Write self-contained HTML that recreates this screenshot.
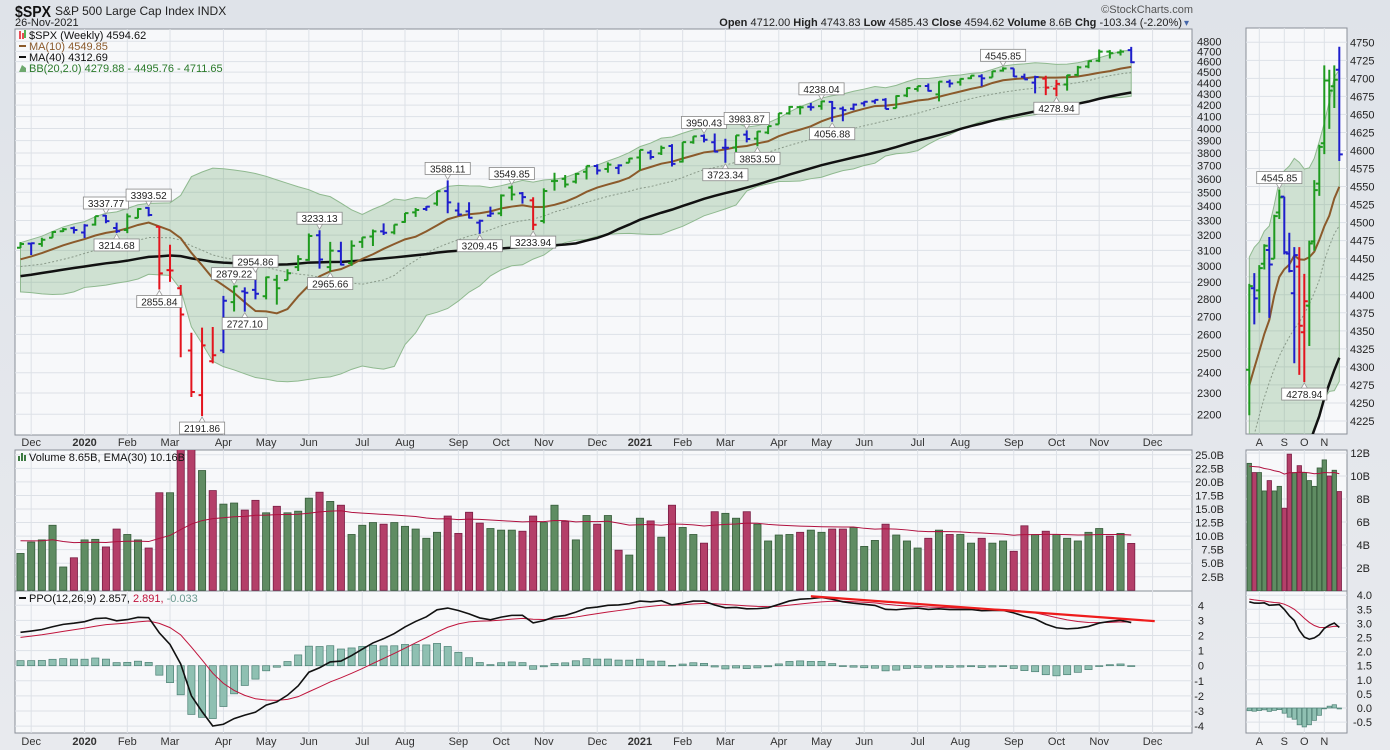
<!DOCTYPE html>
<html><head><meta charset="utf-8"><title>$SPX Weekly</title>
<style>
html,body{margin:0;padding:0;background:#e3e6eb;}
svg{display:block;font-family:"Liberation Sans",sans-serif;}
</style></head>
<body>
<svg id="chart" xmlns="http://www.w3.org/2000/svg" width="1390" height="750" viewBox="0 0 1390 750">
<defs>
<linearGradient id="bgGrad" x1="0" y1="0" x2="0" y2="1"><stop offset="0" stop-color="#dfe3e9"/><stop offset="1" stop-color="#e8eaee"/></linearGradient>
<clipPath id="cMain"><rect x="15" y="29" width="1177" height="406"/></clipPath>
<clipPath id="cVol"><rect x="15" y="450" width="1177" height="141"/></clipPath>
<clipPath id="cPpo"><rect x="15" y="591" width="1177" height="142"/></clipPath>
<clipPath id="cSMain"><rect x="1246" y="28" width="101" height="406"/></clipPath>
<clipPath id="cSVol"><rect x="1246" y="450" width="101" height="141"/></clipPath>
<clipPath id="cSPpo"><rect x="1246" y="591" width="101" height="142"/></clipPath>
</defs>
<rect x="0" y="0" width="1390" height="750" fill="url(#bgGrad)"/>
<rect x="15" y="29" width="1177" height="406" fill="#f7f8fa" stroke="#8a8f98"/>
<rect x="15" y="450" width="1177" height="141" fill="#f7f8fa" stroke="#8a8f98"/>
<rect x="15" y="591" width="1177" height="142" fill="#f7f8fa" stroke="#8a8f98"/>
<rect x="1246" y="28" width="101" height="406" fill="#f7f8fa" stroke="#8a8f98"/>
<rect x="1246" y="450" width="101" height="141" fill="#f7f8fa" stroke="#8a8f98"/>
<rect x="1246" y="591" width="101" height="142" fill="#f7f8fa" stroke="#8a8f98"/>
<text x="15" y="17" font-size="16" font-weight="bold" fill="#111" textLength="36" lengthAdjust="spacingAndGlyphs">$SPX</text>
<text x="55" y="15" font-size="12" fill="#222">S&amp;P 500 Large Cap Index  INDX</text>
<text x="15" y="26" font-size="11" fill="#222">26-Nov-2021</text>
<text x="1193" y="13" font-size="11" fill="#555" text-anchor="end">©StockCharts.com</text>
<text x="1182" y="26" font-size="11" fill="#222" text-anchor="end"><tspan font-weight="bold">Open</tspan> 4712.00  <tspan font-weight="bold">High</tspan> 4743.83  <tspan font-weight="bold">Low</tspan> 4585.43  <tspan font-weight="bold">Close</tspan> 4594.62  <tspan font-weight="bold">Volume</tspan> 8.6B  <tspan font-weight="bold">Chg</tspan> -103.34 (-2.20%)</text>
<text x="1184" y="26" font-size="10" fill="#4466aa">▾</text>
<g id="layer"></g>
</svg>
<script>
// ---- DATA ----
const preClose=[2532,2596,2671,2665,2707,2708,2776,2793,2804,2743,2822,2801,2834,2893,2907,2905,2940,2946,2881,2860,2826,2752,2873,2887,2950,2942,2990,3014,2977,3026,2932,2919,2889,2847,2926,2979,3007,2992,2962,2952,2970,2986,3023,3067,3093,3120,3110];
const open=[3117,3144,3141,3183,3226,3247,3218,3271,3333,3248,3235,3318,3388,3257,2974,2864,2514,2290,2458,2514,2782,2845,2854,2816,2915,2913,2993,3039,3199,2993,3095,3019,3155,3191,3225,3219,3289,3356,3380,3419,3509,3369,3363,3285,3333,3349,3534,3493,3441,3296,3583,3600,3579,3654,3698,3675,3684,3723,3764,3803,3797,3856,3732,3886,3939,3886,3842,3844,3949,3916,3966,4034,4128,4183,4186,4191,4229,4170,4168,4216,4233,4248,4174,4285,4344,4372,4296,4409,4406,4443,4462,4450,4514,4536,4457,4402,4439,4348,4385,4474,4554,4610,4697,4689,4712];
const high=[3154,3144,3183,3226,3248,3258,3275,3330,3337.77,3285,3348,3385,3393.52,3260,3136,2883,2609,2637,2641,2818,2879.22,2869,2954.86,2934,2945,2980,3068,3211,3233.13,3155,3156,3165,3186,3238,3280,3272,3352,3387,3400,3509,3588.11,3425,3428,3306,3397,3485,3549.85,3502,3464,3529,3646,3629,3645,3699,3712,3726,3711,3760,3826,3823,3859,3871,3887,3935,3950.43,3958,3915,3944,3983.87,3978,4020,4130,4192,4195,4219,4238.04,4237,4188,4214,4234,4249,4262,4287,4356,4372,4394,4415,4430,4441,4470,4480,4511,4545.85,4536,4486,4466,4466,4429,4475,4559,4608,4718,4712,4718,4743.83];
const low=[3115,3070,3123,3183,3221,3211,3181,3264,3281,3214.68,3214,3315,3328,2855.84,2902,2479,2281,2191.86,2447,2500,2728,2727.10,2798,2798,2767,2913,2969,3032,2984,2965.66,3004,3001,3116,3128,3201,3205,3284,3325,3367,3403,3350,3330,3313,3209.45,3324,3330,3441,3418,3233.94,3280,3512,3535,3565,3595,3633,3647,3636,3723,3663,3749,3784,3694,3725,3874,3885,3805,3723.34,3806,3885,3853.50,3953,4034,4117,4119,4152,4160,4056.88,4061,4155,4188,4212,4165,4173,4271,4320,4322,4233,4359,4375,4435,4368,4450,4505,4456,4431,4305,4289,4278.94,4329,4461,4537,4595,4630,4659,4585.43];
const close=[3141,3146,3169,3221,3240,3235,3265,3330,3295,3226,3328,3380,3338,2954,2972,2711,2305,2541,2489,2790,2875,2837,2831,2930,2864,2955,3044,3194,3041,3098,3009,3130,3185,3225,3216,3271,3351,3373,3397,3508,3427,3341,3319,3298,3348,3477,3484,3465,3270,3510,3585,3558,3638,3699,3663,3709,3703,3756,3825,3768,3841,3714,3887,3934,3907,3811,3842,3943,3913,3975,4020,4129,4185,4180,4181,4233,4174,4156,4204,4230,4247,4166,4281,4352,4370,4327,4412,4395,4437,4468,4442,4509,4535,4459,4433,4455,4357,4391,4471,4545,4605,4697,4683,4698,4594.62];
const volume=[6.8,8.9,9.3,12.0,4.3,6.0,9.3,9.4,8.0,11.3,10.3,9.3,7.8,18.0,18.0,27,27,22.1,18.4,15.9,16.1,14.8,16.6,14.3,15.5,14.3,14.6,17.0,18.1,16.4,15.7,10.3,12.0,12.5,12.2,12.5,11.8,11.3,9.6,10.7,13.7,10.5,14.4,12.4,11.4,11.1,11.1,10.9,13.7,12.5,15.7,12.7,9.3,13.8,12.2,13.8,7.4,6.5,13.3,12.8,9.8,15.7,11.6,10.3,8.7,14.5,14.2,13.3,14.5,12.2,9.1,10.2,10.3,10.7,11.1,10.7,11.3,11.3,11.6,8.1,9.2,12.2,10.2,9.1,7.8,9.6,11.1,10.3,10.3,8.7,9.6,8.7,9.1,7.2,11.9,10.3,10.9,10.3,9.6,9.1,10.7,11.4,10.0,10.5,8.65];
const volPrior=9.3;
const impulse="gbgggbbgbbggbrrrrrrbgbbgggggbgbgggbgggbgbbbbbggbrgggggbgbggbgbggbbbgbgggggbgbbbbbbgggbgbggbggbbbrrggggggb".split("");
const monthIdx=[1,6,10,14,19,23,27,32,36,41,45,49,54,58,62,66,71,75,79,84,88,93,97,101,106];
const monthLbl=["Dec","2020","Feb","Mar","Apr","May","Jun","Jul","Aug","Sep","Oct","Nov","Dec","2021","Feb","Mar","Apr","May","Jun","Jul","Aug","Sep","Oct","Nov","Dec"];
const priceTicks=[2200,2300,2400,2500,2600,2700,2800,2900,3000,3100,3200,3300,3400,3500,3600,3700,3800,3900,4000,4100,4200,4300,4400,4500,4600,4700,4800];
const volTicks=[2.5,5,7.5,10,12.5,15,17.5,20,22.5,25];
const ppoTicks=[-4,-3,-2,-1,0,1,2,3,4];
const annIdx=[8,9,12,13,17,20,21,22,28,29,40,43,46,48,64,66,68,69,75,76,92,97];
const annSide=["h","l","h","l","l","h","l","h","h","l","h","l","h","l","h","l","h","l","h","l","h","l"];
const sideStart=86;
const sideMonthIdx=[88,93,97,101];
const sideMonthLbl=["A","S","O","N"];
const sidePriceTicks=[4225,4250,4275,4300,4325,4350,4375,4400,4425,4450,4475,4500,4525,4550,4575,4600,4625,4650,4675,4700,4725,4750];
const sideVolTicks=[2,4,6,8,10,12];
const sidePpoTicks=[-0.5,0,0.5,1,1.5,2,2.5,3,3.5,4];
const trendFrom=[74,4.6], trendTo=[106.2,2.95];

// ---- SCALES ----
const xM=i=>20.5+10.68*i;
const yM=p=>41.3+(Math.log(4800)-Math.log(p))*478.1;
const yV=v=>590.3-v*5.42;
const yP=v=>665.7-v*15.1;
const xS=i=>1249.3+5*(i-sideStart);
const yS=p=>42.3+(4750-p)*0.7213;
const yVS=v=>591-v*11.5;
const yPS=v=>708-v*28.2;

const NS="http://www.w3.org/2000/svg";
const layer=document.getElementById('layer');
function mk(tag,a,parent){const e=document.createElementNS(NS,tag);for(const k in a)e.setAttribute(k,a[k]);(parent||layer).appendChild(e);return e;}
function grp(clip){const g=mk('g',clip?{'clip-path':'url(#'+clip+')'}:{});return g;}

// ---- INDICATORS ----
const N=close.length, P=preClose.length;
const all=preClose.concat(close);
function sma(n,k){let s=0;for(let j=k-n+1;j<=k;j++)s+=all[j];return s/n;}
const ma10=[],ma40=[],bbU=[],bbL=[],bbM=[];
for(let i=0;i<N;i++){const k=i+P;ma10.push(sma(10,k));ma40.push(sma(40,k));const m=sma(20,k);let v=0;for(let j=k-19;j<=k;j++)v+=(all[j]-m)**2;const sd=Math.sqrt(v/20);bbM.push(m);bbU.push(m+2*sd);bbL.push(m-2*sd);}
function ema(arr,n){const a=2/(n+1);const o=[];let e=arr[0];for(let i=0;i<arr.length;i++){e=i===0?arr[0]:e+(arr[i]-e)*a;o.push(e);}return o;}
const e12=ema(all,12),e26=ema(all,26);
const ppoAll=all.map((c,i)=>(e12[i]-e26[i])/e26[i]*100);
const sigAll=ema(ppoAll,9);
const ppo=ppoAll.slice(P),sig=sigAll.slice(P),hist=ppo.map((v,i)=>v-sig[i]);
const volEma=[];{let e=volPrior;for(let i=0;i<N;i++){e=e+(volume[i]-e)*2/31;volEma.push(e);}}

// ---- GRIDS ----
const gGrid=grp();


priceTicks.forEach(p=>{const l=mk('line',{x1:15,x2:1192,y1:yM(p),y2:yM(p),stroke:'#dde1e7','stroke-width':1},gGrid);

});
volTicks.forEach(v=>{const l=mk('line',{x1:15,x2:1192,y1:yV(v),y2:yV(v),stroke:'#dde1e7'},gGrid);

});
ppoTicks.forEach(v=>{const l=mk('line',{x1:15,x2:1192,y1:yP(v),y2:yP(v),stroke:'#dde1e7'},gGrid);

});
monthIdx.forEach(i=>{[[29,435],[450,591],[591,733]].forEach(r=>{const l=mk('line',{x1:xM(i),x2:xM(i),y1:r[0],y2:r[1],stroke:'#dde1e7'},gGrid);

});});
sidePriceTicks.forEach(p=>{const l=mk('line',{x1:1246,x2:1347,y1:yS(p),y2:yS(p),stroke:'#dde1e7'},gGrid);

});
sideVolTicks.forEach(v=>{const l=mk('line',{x1:1246,x2:1347,y1:yVS(v),y2:yVS(v),stroke:'#dde1e7'},gGrid);

});
sidePpoTicks.forEach(v=>{const l=mk('line',{x1:1246,x2:1347,y1:yPS(v),y2:yPS(v),stroke:'#dde1e7'},gGrid);

});
sideMonthIdx.forEach(i=>{[[28,434],[450,591],[591,733]].forEach(r=>{const l=mk('line',{x1:xS(i),x2:xS(i),y1:r[0],y2:r[1],stroke:'#dde1e7'},gGrid);

});});

// ---- PRICE PANELS ----
function pricePanel(clip,X,Y,from,prefix){
  const g=grp(clip);
  
  
  let up='',dn='';
  for(let i=from;i<N;i++){up+=(i===from?'M':'L')+X(i)+','+Y(bbU[i]);}
  for(let i=N-1;i>=from;i--){dn+='L'+X(i)+','+Y(bbL[i]);}
  const band=mk('path',{d:up+dn+'Z',fill:'rgba(70,145,70,0.22)',stroke:'#8fb98f','stroke-width':1},g);
  
  
  const line=(arr,col,w,dash,name)=>{let d='';for(let i=from;i<N;i++)d+=(i===from?'M':'L')+X(i)+','+Y(arr[i]);const p=mk('path',{d:d,fill:'none',stroke:col,'stroke-width':w,'stroke-dasharray':dash||'none'},g);
    
    };
  line(bbM,'#8a9a8a',1,'2,2',prefix+'bollinger-middle');
  line(ma40,'#111',2.5,null,prefix+'ma40-line');
  line(ma10,'#8b5a2b',2,null,prefix+'ma10-line');
  const cols={g:'#1e9a1e',b:'#1e1ecc',r:'#e3141e'};
  for(let i=from;i<N;i++){const x=X(i);const c=cols[impulse[i]];
    const b=mk('path',{d:'M'+x+','+Y(high[i])+'V'+Y(low[i])+'M'+(x-3.5)+','+Y(open[i])+'H'+x+'M'+x+','+Y(close[i])+'H'+(x+3.5),stroke:c,'stroke-width':2,fill:'none'},g);
    
    }
  return g;
}
pricePanel('cMain',xM,yM,0,'');
pricePanel('cSMain',xS,yS,sideStart,'side-');

function annot(X,Y,i,side,prefix){
  const v=side==='h'?high[i]:low[i];const x=X(i),y=Y(v);const t=v.toFixed(2);
  const w=t.length*5.6+6,h=12;const by=side==='h'?y-6-h:y+6;
  const g=mk('g',{});
  
  
  mk('path',{d:side==='h'?('M'+(x-3)+','+(by+h)+'L'+x+','+(y-1)+'L'+(x+3)+','+(by+h)):('M'+(x-3)+','+by+'L'+x+','+(y+1)+'L'+(x+3)+','+by),fill:'#fff',stroke:'#999','stroke-width':0.8},g);
  mk('rect',{x:x-w/2,y:by,width:w,height:h,fill:'#fff',stroke:'#888','stroke-width':0.8},g);
  const tx=mk('text',{x:x,y:by+10,'font-size':10,'text-anchor':'middle',fill:'#222'},g);tx.textContent=t;
}
annIdx.forEach((i,k)=>annot(xM,yM,i,annSide[k],''));
annIdx.forEach((i,k)=>{if(i>=sideStart)annot(xS,yS,i,annSide[k],'side-');});

// ---- VOLUME ----
function volPanel(clip,X,Y,from,bw,prefix){
  const g=grp(clip);
  
  
  for(let i=from;i<N;i++){const prev=i===0?preClose[P-1]:close[i-1];const upc=close[i]>=prev;
    const r=mk('rect',{x:X(i)-bw/2,y:Y(volume[i]),width:bw,height:Y(0)-Y(volume[i]),fill:upc?'#5f8c62':'#b43f69',stroke:upc?'#365c3a':'#7a1d44','stroke-width':0.8},g);
    
    }
  let d='';for(let i=from;i<N;i++)d+=(i===from?'M':'L')+X(i)+','+Y(volEma[i]);
  const l=mk('path',{d:d,fill:'none',stroke:'#b0103f','stroke-width':1},g);
  
  
}
volPanel('cVol',xM,yV,0,7.2,'');
volPanel('cSVol',xS,yVS,sideStart,4.4,'side-');

// ---- PPO ----
function ppoPanel(clip,X,Y,from,bw,prefix){
  const g=grp(clip);
  
  
  for(let i=from;i<N;i++){const y0=Y(0),y1=Y(hist[i]);
    const r=mk('rect',{x:X(i)-bw/2,y:Math.min(y0,y1),width:bw,height:Math.max(0.8,Math.abs(y1-y0)),fill:'#8fc0b2',stroke:'#4b7f73','stroke-width':0.7},g);
    
    }
  let d1='',d2='';for(let i=from;i<N;i++){d1+=(i===from?'M':'L')+X(i)+','+Y(sig[i]);d2+=(i===from?'M':'L')+X(i)+','+Y(ppo[i]);}
  const s=mk('path',{d:d1,fill:'none',stroke:'#c0143c','stroke-width':1},g);
  
  
  const p=mk('path',{d:d2,fill:'none',stroke:'#111','stroke-width':1.6},g);
  
  
  return g;
}
const gp=ppoPanel('cPpo',xM,yP,0,7.2,'');
ppoPanel('cSPpo',xS,yPS,sideStart,4.4,'side-');
const tl=mk('line',{x1:xM(trendFrom[0]),y1:yP(trendFrom[1]),x2:xM(trendTo[0]),y2:yP(trendTo[1]),stroke:'#ee1c1c','stroke-width':2.2});



// ---- AXIS LABELS ----
function txt(x,y,s,a){const t=mk('text',Object.assign({x:x,y:y,'font-size':11,fill:'#222'},a||{}));t.textContent=s;return t;}
priceTicks.forEach(p=>{const t=txt(1197,yM(p)+4,String(p));

});
volTicks.forEach(v=>{const t=txt(1224,yV(v)+4,v.toFixed(1)+'B',{'text-anchor':'end'});

});
ppoTicks.forEach(v=>{const t=txt(1204,yP(v)+4,String(v),{'text-anchor':'end'});

});
sidePriceTicks.forEach(p=>{const t=txt(1350,yS(p)+4,String(p));

});
sideVolTicks.forEach(v=>{const t=txt(1370,yVS(v)+4,v+'B',{'text-anchor':'end'});

});
sidePpoTicks.forEach(v=>{const t=txt(1372,yPS(v)+4,v.toFixed(1),{'text-anchor':'end'});

});
monthIdx.forEach((i,k)=>{[446,745].forEach(y=>{const bold=/^\d/.test(monthLbl[k]);const t=txt(xM(i),y,monthLbl[k],{'text-anchor':'middle','font-weight':bold?'bold':'normal',fill:'#333'});

});});
sideMonthIdx.forEach((i,k)=>{[446,745].forEach(y=>{const t=txt(xS(i),y,sideMonthLbl[k],{'text-anchor':'middle',fill:'#333'});

});});

// ---- LEGENDS ----
function legendLine(y,col,s,name,icon){
  const g=mk('g',{});
  
  
  if(icon==='line')mk('line',{x1:19,x2:26,y1:y-4,y2:y-4,stroke:col,'stroke-width':2},g);
  else if(icon==='bb')mk('path',{d:'M19,'+y+' L22,'+(y-7)+' L26,'+(y-4)+' L26,'+y+'Z',fill:'#6ea86e'},g);
  else if(icon==='bar'){mk('path',{d:'M20,'+(y-8)+'V'+y+'M23,'+(y-6)+'V'+y,stroke:'#e3141e','stroke-width':1.5},g);mk('path',{d:'M25,'+(y-9)+'V'+(y-1),stroke:'#1e9a1e','stroke-width':1.5},g);}
  else if(icon==='vol'){mk('path',{d:'M19,'+y+'V'+(y-5)+'M22,'+y+'V'+(y-8)+'M25,'+y+'V'+(y-6),stroke:'#3c7a40','stroke-width':2},g);}
  const t=mk('text',{x:29,y:y,'font-size':11,fill:col},g);t.textContent=s;return t;
}
legendLine(39,'#111','$SPX (Weekly) 4594.62','price-legend','bar');
legendLine(50,'#8b5a2b','MA(10) 4549.85','ma10-legend','line');
legendLine(61,'#111','MA(40) 4312.69','ma40-legend','line');
legendLine(72,'#2a7a2a','BB(20,2.0) 4279.88 - 4495.76 - 4711.65','bb-legend','bb');
legendLine(461,'#111','Volume 8.65B, EMA(30) 10.16B','volume-legend','vol');
const pl=legendLine(602,'#111','PPO(12,26,9) 2.857, ','ppo-legend','line');
const ts1=document.createElementNS(NS,'tspan');ts1.setAttribute('fill','#c0143c');ts1.textContent='2.891, ';pl.appendChild(ts1);
const ts2=document.createElementNS(NS,'tspan');ts2.setAttribute('fill','#6a9a90');ts2.textContent='-0.033';pl.appendChild(ts2);
</script>
</body></html>
